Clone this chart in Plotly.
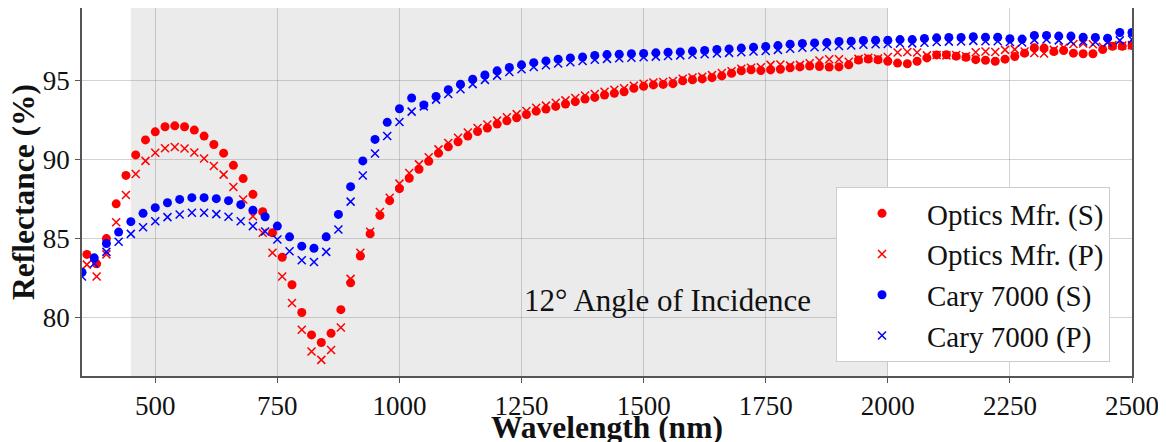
import plotly.graph_objects as go

# ---------------- data ----------------
wl_optics = list(range(360, 2501, 20))   # nm, Optics Mfr. sampling
wl_cary = list(range(350, 2501, 25))     # nm, Cary 7000 sampling

optics_s = [84.0, 83.4, 85.0, 87.2, 89.0, 90.3, 91.25, 91.76, 92.08, 92.14,
            92.08, 91.87, 91.49, 90.96, 90.41, 89.64, 88.8, 87.8, 86.7, 85.37,
            83.82, 82.08, 80.32, 78.9, 78.42, 79.0, 80.5, 82.2, 83.9, 85.3,
            86.47, 87.4, 88.16, 88.82, 89.39, 89.9, 90.41, 90.81, 91.13, 91.49,
            91.78, 92.0, 92.25, 92.46, 92.65, 92.86, 93.07, 93.2, 93.37, 93.52,
            93.67, 93.84, 93.94, 94.09, 94.2, 94.3, 94.52, 94.64, 94.73, 94.76,
            94.81, 94.99, 95.06, 95.11, 95.19, 95.3, 95.47, 95.63, 95.69, 95.64,
            95.68, 95.72, 95.81, 95.87, 95.93, 95.89, 95.86, 95.87, 96.0, 96.31,
            96.37, 96.32, 96.23, 96.11, 96.07, 96.23, 96.44, 96.63, 96.64, 96.55,
            96.48, 96.33, 96.29, 96.23, 96.36, 96.53, 96.74, 97.08, 97.06, 96.84,
            96.91, 96.74, 96.7, 96.7, 96.97, 97.18, 97.18, 97.22]

optics_p = [83.35, 82.6, 84.0, 86.04, 87.76, 89.09, 89.92, 90.43, 90.72, 90.8,
            90.7, 90.45, 90.07, 89.6, 89.05, 88.27, 87.48, 86.42, 85.37, 84.1,
            82.6, 80.92, 79.23, 77.85, 77.32, 77.95, 79.37, 82.45, 84.1, 85.43,
            86.68, 87.59, 88.48, 89.15, 89.7, 90.15, 90.65, 91.05, 91.38, 91.72,
            92.0, 92.22, 92.47, 92.68, 92.88, 93.08, 93.28, 93.42, 93.6, 93.75,
            93.9, 94.06, 94.15, 94.3, 94.42, 94.52, 94.68, 94.8, 94.88, 94.92,
            94.98, 95.12, 95.2, 95.25, 95.35, 95.48, 95.6, 95.75, 95.82, 95.85,
            96.0, 96.02, 95.95, 96.0, 96.1, 96.28, 96.35, 96.35, 96.2, 96.38,
            96.45, 96.4, 96.5, 96.78, 96.82, 96.78, 96.6, 96.62, 96.6, 96.62,
            96.55, 96.8, 96.85, 96.82, 96.95, 96.98, 96.85, 96.75, 96.72, 96.95,
            97.1, 97.32, 97.35, 97.3, 97.15, 97.25, 97.22, 97.25]

cary_s = [82.87, 83.78, 84.69, 85.41, 86.07, 86.6, 86.96, 87.27, 87.48, 87.59,
          87.59, 87.53, 87.4, 87.15, 86.8, 86.38, 85.79, 85.11, 84.52, 84.39,
          85.11, 86.53, 88.29, 89.92, 91.28, 92.36, 93.22, 93.9, 93.46, 94.0,
          94.43, 94.77, 95.09, 95.36, 95.62, 95.83, 96.0, 96.14, 96.25, 96.36,
          96.44, 96.5, 96.59, 96.65, 96.67, 96.7, 96.72, 96.76, 96.8, 96.82,
          96.87, 96.91, 96.97, 97.01, 97.06, 97.12, 97.16, 97.22, 97.31, 97.35,
          97.39, 97.41, 97.48, 97.5, 97.54, 97.56, 97.56, 97.6, 97.6, 97.67,
          97.71, 97.73, 97.73, 97.78, 97.75, 97.75, 97.65, 97.63, 97.86, 97.86,
          97.82, 97.82, 97.75, 97.73, 97.69, 98.05, 98.05]

cary_p = [82.6, 83.42, 84.16, 84.8, 85.3, 85.72, 86.1, 86.36, 86.53, 86.64,
          86.64, 86.55, 86.38, 86.1, 85.79, 85.45, 84.94, 84.2, 83.63, 83.52,
          84.16, 85.58, 87.34, 89.0, 90.39, 91.5, 92.38, 93.04, 93.37, 93.8,
          94.15, 94.45, 94.78, 95.05, 95.32, 95.55, 95.72, 95.86, 95.98, 96.08,
          96.17, 96.24, 96.32, 96.38, 96.42, 96.45, 96.48, 96.52, 96.56, 96.6,
          96.64, 96.67, 96.72, 96.76, 96.8, 96.85, 96.88, 96.95, 97.02, 97.08,
          97.12, 97.15, 97.2, 97.23, 97.27, 97.3, 97.32, 97.35, 97.36, 97.4,
          97.45, 97.47, 97.48, 97.52, 97.5, 97.5, 97.45, 97.42, 97.58, 97.6,
          97.55, 97.5, 97.48, 97.45, 97.42, 97.55, 97.6]

x_ticks = [500, 750, 1000, 1250, 1500, 1750, 2000, 2250, 2500]
y_ticks = [80, 85, 90, 95]
shade_range = [450, 2000]
angle_label = "12° Angle of Incidence"
x_title = "Wavelength (nm)"
y_title = "Reflectance (%)"

assert len(optics_s) == len(wl_optics) == len(optics_p)
assert len(cary_s) == len(wl_cary) == len(cary_p)

# ---------------- figure ----------------
FONT = "Liberation Serif, Times New Roman, serif"
RED = "#ff0000"
BLUE = "#0000ff"
TXT = "#111111"

fig = go.Figure()

fig.add_trace(go.Scatter(x=wl_optics, y=optics_s, mode="markers",
                         name="Optics Mfr. (S)", legendgroup="a",
                         marker=dict(symbol="circle", size=9, color=RED)))
fig.add_trace(go.Scatter(x=wl_optics, y=optics_p, mode="markers",
                         name="Optics Mfr. (P)", legendgroup="b",
                         marker=dict(symbol="x-thin", size=8, color=RED,
                                     line=dict(width=1.5, color=RED))))
fig.add_trace(go.Scatter(x=wl_cary, y=cary_s, mode="markers",
                         name="Cary 7000 (S)", legendgroup="c",
                         marker=dict(symbol="circle", size=9, color=BLUE)))
fig.add_trace(go.Scatter(x=wl_cary, y=cary_p, mode="markers",
                         name="Cary 7000 (P)", legendgroup="d",
                         marker=dict(symbol="x-thin", size=8, color=BLUE,
                                     line=dict(width=1.5, color=BLUE))))

fig.add_shape(type="rect", xref="x", yref="paper",
              x0=shade_range[0], x1=shade_range[1], y0=0, y1=1,
              fillcolor="#ebebeb", line=dict(width=0), layer="below")

fig.add_annotation(x=1549, y=81.1, xref="x", yref="y", text=angle_label,
                   showarrow=False, xanchor="center", yanchor="middle",
                   font=dict(family=FONT, size=31, color=TXT))

# axis titles as paper-anchored annotations (the x title is partly cut
# off by the bottom edge, as in the original figure)
fig.add_annotation(x=0.5, y=-0.139, xref="paper", yref="paper",
                   text="<b>" + x_title + "</b>", showarrow=False,
                   xanchor="center", yanchor="middle",
                   font=dict(family=FONT, size=31.5, color=TXT))
fig.add_annotation(x=-0.0562, y=0.5, xref="paper", yref="paper",
                   text="<b>" + y_title + "</b>", showarrow=False,
                   textangle=-90, xanchor="center", yanchor="middle",
                   font=dict(family=FONT, size=31.5, color=TXT))

axis_common = dict(showgrid=True, gridcolor="rgba(128,128,128,0.35)",
                   gridwidth=1, showline=True, linecolor="#555555",
                   linewidth=1.5, mirror=True, ticks="outside", ticklen=5,
                   tickcolor="#555555", zeroline=False, automargin=False,
                   tickfont=dict(family=FONT, size=27, color=TXT))

fig.update_xaxes(range=[350, 2500], tickvals=x_ticks, **axis_common)
fig.update_yaxes(range=[76.3, 99.6], tickvals=y_ticks, **axis_common)

# The page places the figure 8px in from the top-left corner, so the
# figure is made 8px smaller and the margins compensated accordingly.
fig.update_layout(
    width=1158, height=434,
    margin=dict(l=74, r=34, t=0, b=66),
    paper_bgcolor="white", plot_bgcolor="white",
    font=dict(family=FONT, color=TXT),
    legend=dict(x=0.7181, y=0.5136, xanchor="left", yanchor="top",
                bgcolor="white", bordercolor="#cccccc", borderwidth=1,
                font=dict(family=FONT, size=29, color=TXT),
                itemwidth=80, tracegroupgap=0),
)

fig.write_html("out.html")
